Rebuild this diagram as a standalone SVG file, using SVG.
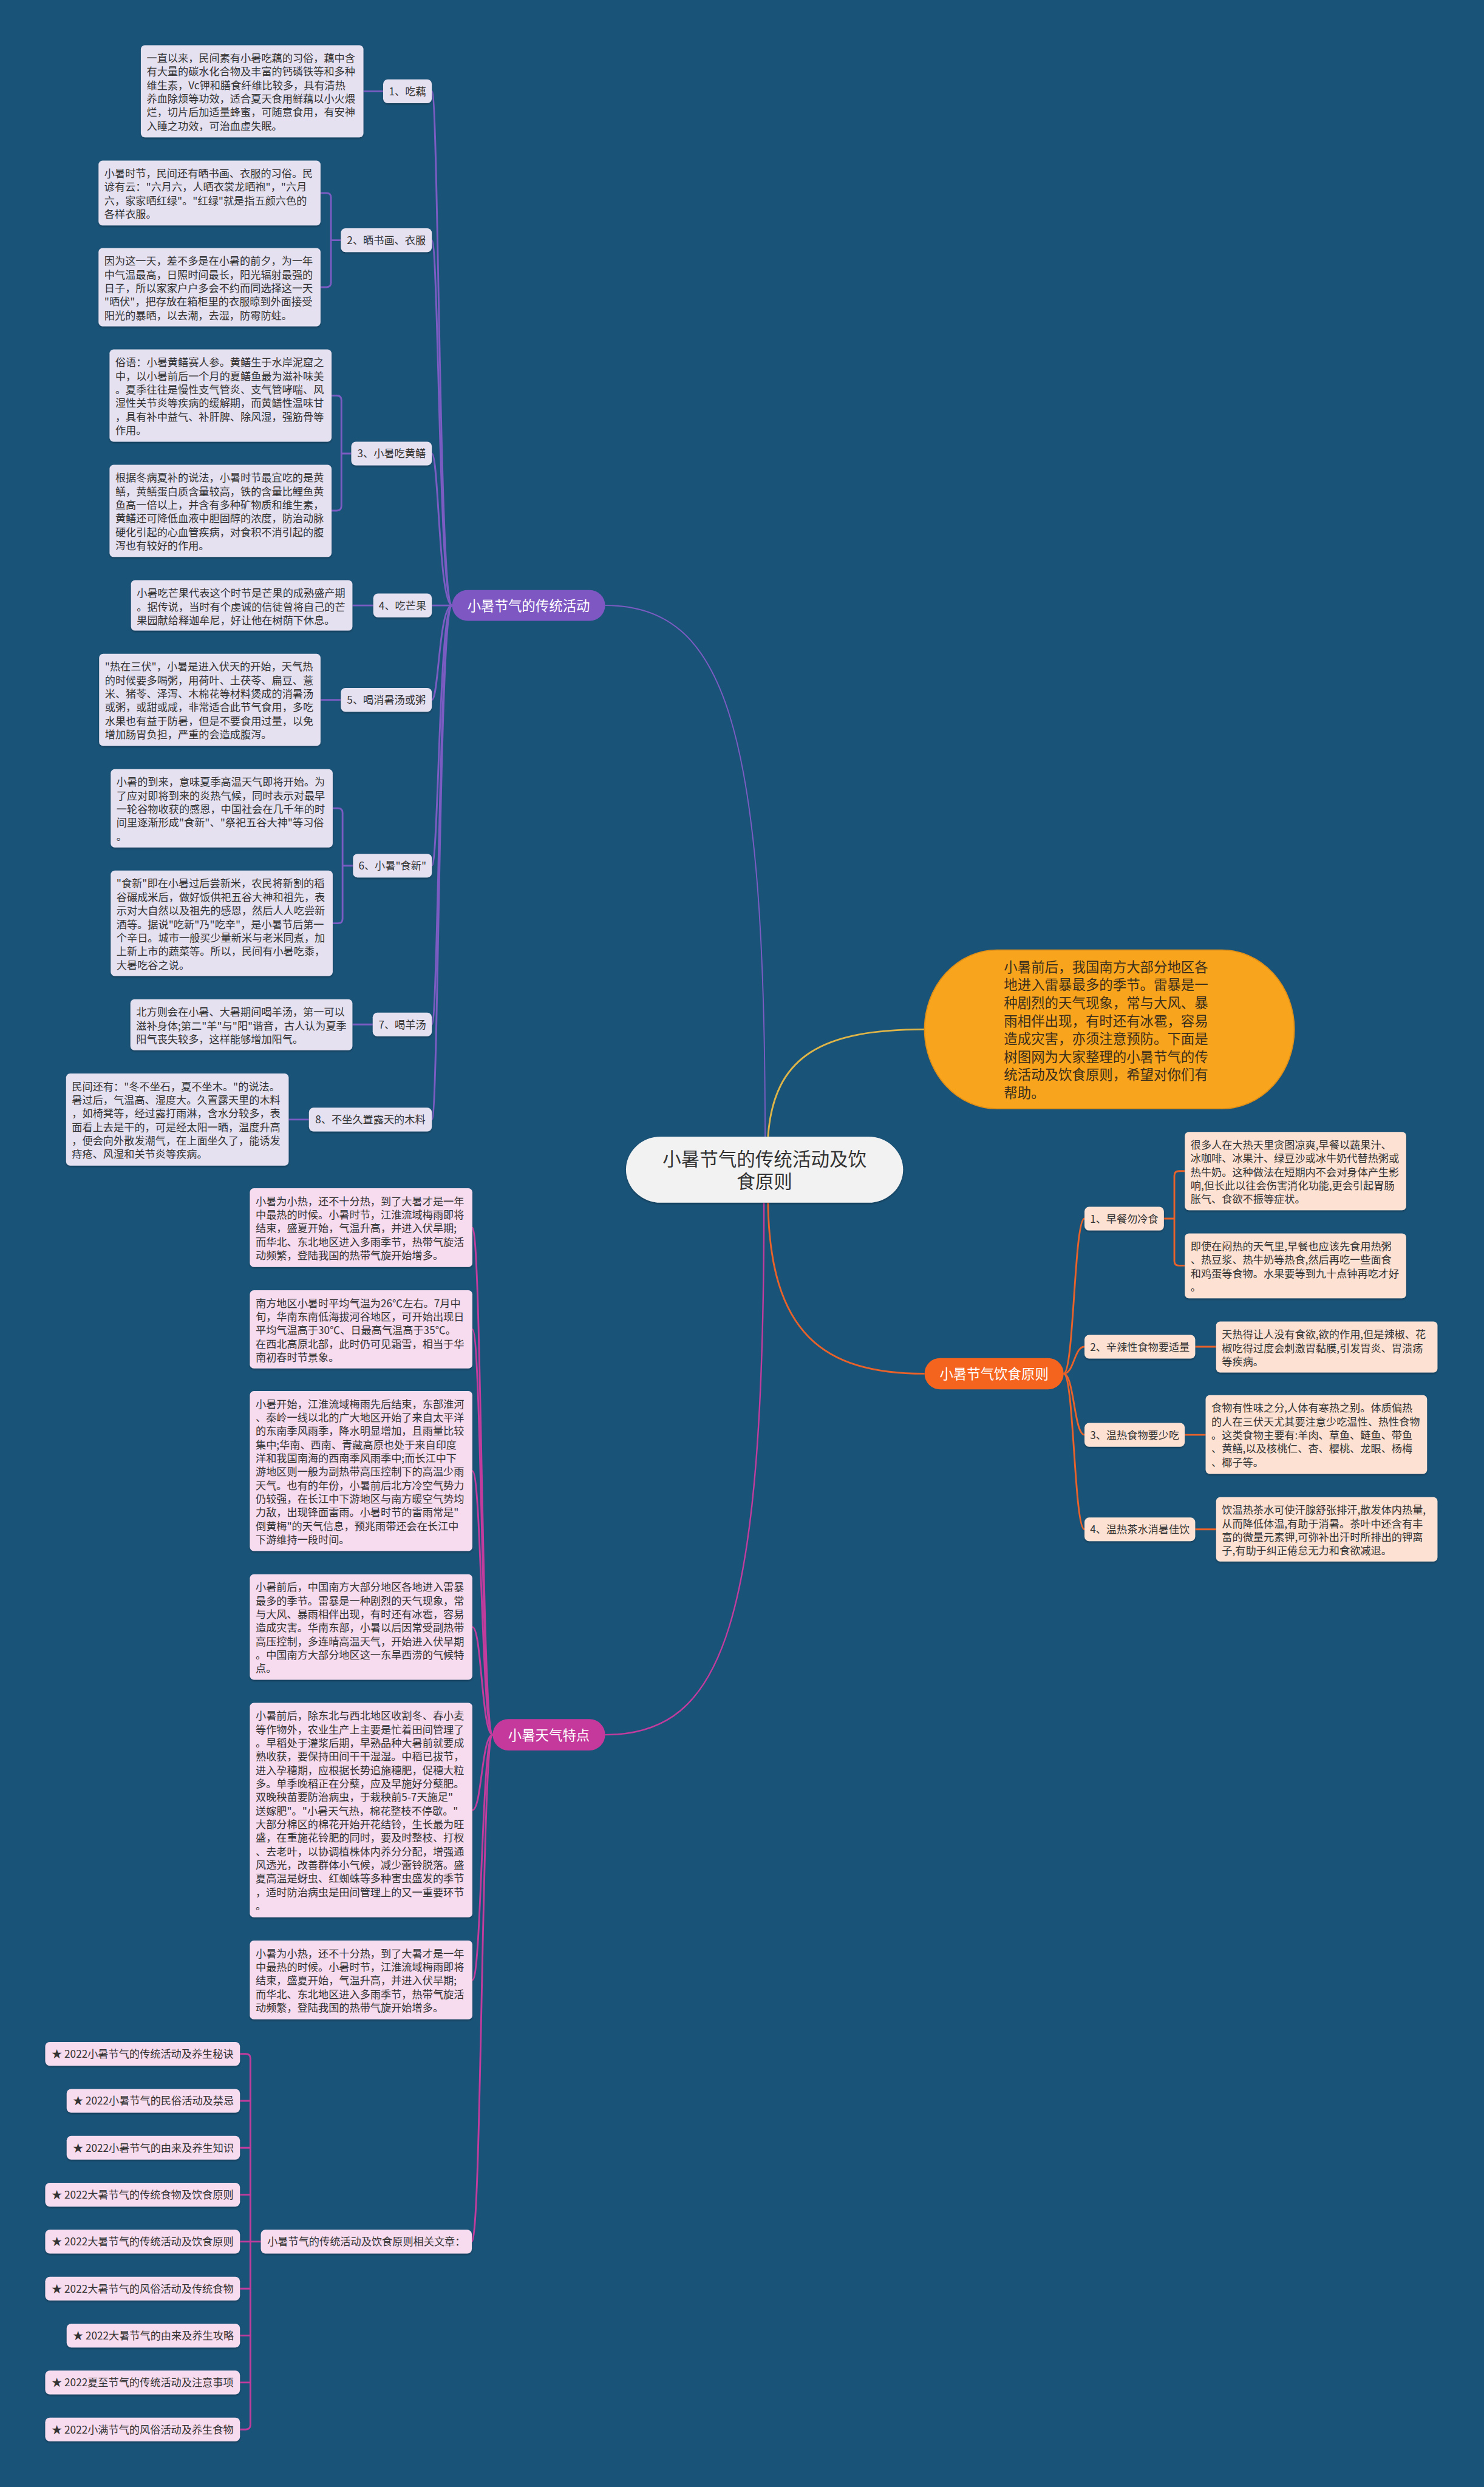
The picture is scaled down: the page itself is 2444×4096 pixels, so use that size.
<svg xmlns="http://www.w3.org/2000/svg" width="2444" height="4096" viewBox="0 0 2444 4096">
<defs>
<filter id="sh" x="-5%" y="-10%" width="110%" height="130%"><feDropShadow dx="0" dy="2" stdDeviation="1.5" flood-color="#000" flood-opacity="0.28"/></filter>
</defs>
<style>
.t{font-family:"Noto Sans CJK SC","Noto Sans",sans-serif;font-size:18px;fill:#333}
.m{text-anchor:middle}
.w{fill:#fff;font-size:23.5px}
.r{font-size:32px;fill:#333}
.i{font-size:23.5px;fill:#3a2e1c}
.ba{fill:#e6e1f1;filter:url(#sh)}
.bb{fill:#fde2d4;filter:url(#sh)}
.bc{fill:#f7dbee;filter:url(#sh)}
.ca{fill:none;stroke:#7b5cc2;stroke-width:3}
.cb{fill:none;stroke:#e8622a;stroke-width:3}
.cc{fill:none;stroke:#c23c9e;stroke-width:3}
</style>
<rect x="0" y="0" width="2444" height="4096" fill="#1a5378"/>
<g transform="scale(0.9546)">
<g id="connectors">
<path class="ca" style="stroke-width:2" d="M1320,1961 C1320,1250 1250,1044.5 1044,1044.5"/>
<path fill="none" stroke="#e0b548" stroke-width="3" d="M1325,1961 C1335,1820 1420,1776 1595,1776"/>
<path class="cb" d="M1325,2075 C1328,2300 1420,2370 1595,2370"/>
<path class="cc" style="stroke-width:2.5" d="M1318,2075 C1318,2800 1250,2993 1044,2993"/>
<path class="ca" d="M780,1044.5 C757,1044.5 757,157.5 745,157.5"/>
<path class="ca" d="M780,1044.5 C757,1044.5 757,414.5 745,414.5"/>
<path class="ca" d="M780,1044.5 C757,1044.5 757,782.5 745,782.5"/>
<path class="ca" d="M780,1044.5 H745"/>
<path class="ca" d="M780,1044.5 C757,1044.5 757,1207.5 745,1207.5"/>
<path class="ca" d="M780,1044.5 C757,1044.5 757,1493.5 745,1493.5"/>
<path class="ca" d="M780,1044.5 C757,1044.5 757,1767.5 745,1767.5"/>
<path class="ca" d="M780,1044.5 C757,1044.5 757,1931.5 745,1931.5"/>
<path class="ca" d="M627,157.5 H661"/>
<path class="ca" d="M553,333 H563 Q571,333 571,341 V487.5 Q571,495.5 563,495.5 H553 M571,414.5 H588"/>
<path class="ca" d="M572,682.5 H581 Q589,682.5 589,690.5 V873 Q589,881 581,881 H572 M589,782.5 H606"/>
<path class="ca" d="M608,1044.5 H644"/>
<path class="ca" d="M553,1207.5 H588"/>
<path class="ca" d="M574,1394.5 H583 Q591,1394.5 591,1402.5 V1585 Q591,1593 583,1593 H574 M591,1493.5 H609"/>
<path class="ca" d="M608,1767.5 H643"/>
<path class="ca" d="M498,1931.5 H533"/>
<path class="cb" d="M1835,2370 C1853,2370 1853,2102.5 1871,2102.5"/>
<path class="cb" d="M1835,2370 C1853,2370 1853,2323.5 1871,2323.5"/>
<path class="cb" d="M1835,2370 C1853,2370 1853,2475.5 1871,2475.5"/>
<path class="cb" d="M1835,2370 C1853,2370 1853,2638.5 1871,2638.5"/>
<path class="cb" d="M2008,2102.5 H2026 M2044,2020.5 H2034 Q2026,2020.5 2026,2028.5 V2175.5 Q2026,2183.5 2034,2183.5 H2044"/>
<path class="cb" d="M2062,2323.5 H2098"/>
<path class="cb" d="M2044,2475.5 H2080"/>
<path class="cb" d="M2062,2638.5 H2098"/>
<path class="cc" d="M850,2993 C831,2993 831,2118 815,2118"/>
<path class="cc" d="M850,2993 C831,2993 831,2293.5 815,2293.5"/>
<path class="cc" d="M850,2993 C831,2993 831,2538 815,2538"/>
<path class="cc" d="M850,2993 C831,2993 831,2807 815,2807"/>
<path class="cc" d="M850,2993 C831,2993 831,3123 815,3123"/>
<path class="cc" d="M850,2993 C831,2993 831,3416 815,3416"/>
<path class="cc" d="M850,2993 C831,2993 831,3867.5 814,3867.5"/>
<path class="cc" d="M414,3543.5 H424 Q432,3543.5 432,3551.5 V4183.5 Q432,4191.5 424,4191.5 H414 M432,3867.5 H450 M414,3624.5 H432 M414,3705.5 H432 M414,3786.5 H432 M414,3867.5 H432 M414,3948.5 H432 M414,4029.5 H432 M414,4110.5 H432"/>
</g>
<g id="root">
<rect x="1080" y="1961" width="478" height="114" rx="60" ry="57" fill="#f2f2f2" filter="url(#sh)"/>
<text class="t m r" x="1319" y="2011">小暑节气的传统活动及饮<tspan x="1319" dy="39">食原则</tspan></text>
</g>
<g id="intro">
<rect x="1595" y="1639" width="638" height="274" rx="125" ry="137" fill="#f8a41d" stroke="#e08f17" stroke-width="2"/>
<text class="t i" x="1732" y="1677">小暑前后，我国南方大部分地区各<tspan x="1732" dy="31">地进入雷暴最多的季节。雷暴是一</tspan><tspan x="1732" dy="31">种剧烈的天气现象，常与大风、暴</tspan><tspan x="1732" dy="31">雨相伴出现，有时还有冰雹，容易</tspan><tspan x="1732" dy="31">造成灾害，亦须注意预防。下面是</tspan><tspan x="1732" dy="31">树图网为大家整理的小暑节气的传</tspan><tspan x="1732" dy="31">统活动及饮食原则，希望对你们有</tspan><tspan x="1732" dy="31">帮助。</tspan></text>
</g>
<g id="branch-a">
<rect x="780" y="1018" width="264" height="53" rx="26.5" fill="#7e57c2"/>
<text class="t m w" x="912" y="1053.5">小暑节气的传统活动</text>
</g>
<g id="a1">
<rect class="ba" x="661" y="137" width="84" height="41" rx="8"/>
<text class="t m" x="703" y="164.3">1、吃藕</text>
<rect class="ba" x="243" y="78" width="384" height="159" rx="7"/>
<text class="t" x="253" y="107">一直以来，民间素有小暑吃藕的习俗，藕中含<tspan x="253" dy="23.4">有大量的碳水化合物及丰富的钙磷铁等和多种</tspan><tspan x="253" dy="23.4">维生素，Vc钾和膳食纤维比较多，具有清热</tspan><tspan x="253" dy="23.4">养血除烦等功效，适合夏天食用鲜藕以小火煨</tspan><tspan x="253" dy="23.4">烂，切片后加适量蜂蜜，可随意食用，有安神</tspan><tspan x="253" dy="23.4">入睡之功效，可治血虚失眠。</tspan></text>
</g>
<g id="a2">
<rect class="ba" x="588" y="394" width="157" height="41" rx="8"/>
<text class="t m" x="666.5" y="421.3">2、晒书画、衣服</text>
<rect class="ba" x="170" y="277" width="383" height="112" rx="7"/>
<text class="t" x="180" y="306">小暑时节，民间还有晒书画、衣服的习俗。民<tspan x="180" dy="23.4">谚有云："六月六，人晒衣裳龙晒袍"，"六月</tspan><tspan x="180" dy="23.4">六，家家晒红绿"。"红绿"就是指五颜六色的</tspan><tspan x="180" dy="23.4">各样衣服。</tspan></text>
<rect class="ba" x="170" y="428" width="383" height="135" rx="7"/>
<text class="t" x="180" y="457">因为这一天，差不多是在小暑的前夕，为一年<tspan x="180" dy="23.4">中气温最高，日照时间最长，阳光辐射最强的</tspan><tspan x="180" dy="23.4">日子，所以家家户户多会不约而同选择这一天</tspan><tspan x="180" dy="23.4">"晒伏"，把存放在箱柜里的衣服晾到外面接受</tspan><tspan x="180" dy="23.4">阳光的暴晒，以去潮，去湿，防霉防蛀。</tspan></text>
</g>
<g id="a3">
<rect class="ba" x="606" y="762" width="139" height="41" rx="8"/>
<text class="t m" x="675.5" y="789.3">3、小暑吃黄鳝</text>
<rect class="ba" x="189" y="603" width="383" height="159" rx="7"/>
<text class="t" x="199" y="632">俗语：小暑黄鳝赛人参。黄鳝生于水岸泥窟之<tspan x="199" dy="23.4">中，以小暑前后一个月的夏鳝鱼最为滋补味美</tspan><tspan x="199" dy="23.4">。夏季往往是慢性支气管炎、支气管哮喘、风</tspan><tspan x="199" dy="23.4">湿性关节炎等疾病的缓解期，而黄鳝性温味甘</tspan><tspan x="199" dy="23.4">，具有补中益气、补肝脾、除风湿，强筋骨等</tspan><tspan x="199" dy="23.4">作用。</tspan></text>
<rect class="ba" x="189" y="802" width="383" height="159" rx="7"/>
<text class="t" x="199" y="831">根据冬病夏补的说法，小暑时节最宜吃的是黄<tspan x="199" dy="23.4">鳝，黄鳝蛋白质含量较高，铁的含量比鲤鱼黄</tspan><tspan x="199" dy="23.4">鱼高一倍以上，并含有多种矿物质和维生素，</tspan><tspan x="199" dy="23.4">黄鳝还可降低血液中胆固醇的浓度，防治动脉</tspan><tspan x="199" dy="23.4">硬化引起的心血管疾病，对食积不消引起的腹</tspan><tspan x="199" dy="23.4">泻也有较好的作用。</tspan></text>
</g>
<g id="a4">
<rect class="ba" x="644" y="1024" width="101" height="41" rx="8"/>
<text class="t m" x="694.5" y="1051.3">4、吃芒果</text>
<rect class="ba" x="226" y="1001" width="382" height="87" rx="7"/>
<text class="t" x="236" y="1030">小暑吃芒果代表这个时节是芒果的成熟盛产期<tspan x="236" dy="23.4">。据传说，当时有个虔诚的信徒曾将自己的芒</tspan><tspan x="236" dy="23.4">果园献给释迦牟尼，好让他在树荫下休息。</tspan></text>
</g>
<g id="a5">
<rect class="ba" x="588" y="1187" width="157" height="41" rx="8"/>
<text class="t m" x="666.5" y="1214.3">5、喝消暑汤或粥</text>
<rect class="ba" x="171" y="1128" width="382" height="159" rx="7"/>
<text class="t" x="181" y="1157">"热在三伏"，小暑是进入伏天的开始，天气热<tspan x="181" dy="23.4">的时候要多喝粥，用荷叶、土茯苓、扁豆、薏</tspan><tspan x="181" dy="23.4">米、猪苓、泽泻、木棉花等材料煲成的消暑汤</tspan><tspan x="181" dy="23.4">或粥，或甜或咸，非常适合此节气食用，多吃</tspan><tspan x="181" dy="23.4">水果也有益于防暑，但是不要食用过量，以免</tspan><tspan x="181" dy="23.4">增加肠胃负担，严重的会造成腹泻。</tspan></text>
</g>
<g id="a6">
<rect class="ba" x="609" y="1473" width="136" height="41" rx="8"/>
<text class="t m" x="677" y="1500.3">6、小暑"食新"</text>
<rect class="ba" x="191" y="1327" width="383" height="135" rx="7"/>
<text class="t" x="201" y="1356">小暑的到来，意味夏季高温天气即将开始。为<tspan x="201" dy="23.4">了应对即将到来的炎热气候，同时表示对最早</tspan><tspan x="201" dy="23.4">一轮谷物收获的感恩，中国社会在几千年的时</tspan><tspan x="201" dy="23.4">间里逐渐形成"食新"、"祭祀五谷大神"等习俗</tspan><tspan x="201" dy="23.4">。</tspan></text>
<rect class="ba" x="191" y="1502" width="383" height="182" rx="7"/>
<text class="t" x="201" y="1531">"食新"即在小暑过后尝新米，农民将新割的稻<tspan x="201" dy="23.4">谷碾成米后，做好饭供祀五谷大神和祖先，表</tspan><tspan x="201" dy="23.4">示对大自然以及祖先的感恩，然后人人吃尝新</tspan><tspan x="201" dy="23.4">酒等。据说"吃新"乃"吃辛"，是小暑节后第一</tspan><tspan x="201" dy="23.4">个辛日。城市一般买少量新米与老米同煮，加</tspan><tspan x="201" dy="23.4">上新上市的蔬菜等。所以，民间有小暑吃黍，</tspan><tspan x="201" dy="23.4">大暑吃谷之说。</tspan></text>
</g>
<g id="a7">
<rect class="ba" x="643" y="1747" width="102" height="41" rx="8"/>
<text class="t m" x="694" y="1774.3">7、喝羊汤</text>
<rect class="ba" x="225" y="1724" width="383" height="88" rx="7"/>
<text class="t" x="235" y="1753">北方则会在小暑、大暑期间喝羊汤，第一可以<tspan x="235" dy="23.4">滋补身体;第二"羊"与"阳"谐音，古人认为夏季</tspan><tspan x="235" dy="23.4">阳气丧失较多，这样能够增加阳气。</tspan></text>
</g>
<g id="a8">
<rect class="ba" x="533" y="1911" width="212" height="41" rx="8"/>
<text class="t m" x="639" y="1938.3">8、不坐久置露天的木料</text>
<rect class="ba" x="114" y="1852" width="384" height="159" rx="7"/>
<text class="t" x="124" y="1881">民间还有："冬不坐石，夏不坐木。"的说法。<tspan x="124" dy="23.4">暑过后，气温高、湿度大。久置露天里的木料</tspan><tspan x="124" dy="23.4">，如椅凳等，经过露打雨淋，含水分较多，表</tspan><tspan x="124" dy="23.4">面看上去是干的，可是经太阳一晒，温度升高</tspan><tspan x="124" dy="23.4">，便会向外散发潮气，在上面坐久了，能诱发</tspan><tspan x="124" dy="23.4">痔疮、风湿和关节炎等疾病。</tspan></text>
</g>
<g id="branch-b">
<rect x="1595" y="2343" width="240" height="54" rx="27" fill="#f4641f"/>
<text class="t m w" x="1715" y="2379">小暑节气饮食原则</text>
</g>
<g id="b1">
<rect class="bb" x="1871" y="2082" width="137" height="41" rx="8"/>
<text class="t m" x="1939.5" y="2109.3">1、早餐勿冷食</text>
<rect class="bb" x="2044" y="1953" width="382" height="135" rx="7"/>
<text class="t" x="2054" y="1982">很多人在大热天里贪图凉爽,早餐以蔬果汁、<tspan x="2054" dy="23.4">冰咖啡、冰果汁、绿豆沙或冰牛奶代替热粥或</tspan><tspan x="2054" dy="23.4">热牛奶。这种做法在短期内不会对身体产生影</tspan><tspan x="2054" dy="23.4">响,但长此以往会伤害消化功能,更会引起胃肠</tspan><tspan x="2054" dy="23.4">胀气、食欲不振等症状。</tspan></text>
<rect class="bb" x="2044" y="2128" width="382" height="112" rx="7"/>
<text class="t" x="2054" y="2157">即使在闷热的天气里,早餐也应该先食用热粥<tspan x="2054" dy="23.4">、热豆浆、热牛奶等热食,然后再吃一些面食</tspan><tspan x="2054" dy="23.4">和鸡蛋等食物。水果要等到九十点钟再吃才好</tspan><tspan x="2054" dy="23.4">。</tspan></text>
</g>
<g id="b2">
<rect class="bb" x="1871" y="2303" width="191" height="41" rx="8"/>
<text class="t m" x="1966.5" y="2330.3">2、辛辣性食物要适量</text>
<rect class="bb" x="2098" y="2280" width="382" height="88" rx="7"/>
<text class="t" x="2108" y="2309">天热得让人没有食欲,欲的作用,但是辣椒、花<tspan x="2108" dy="23.4">椒吃得过度会刺激胃黏膜,引发胃炎、胃溃疡</tspan><tspan x="2108" dy="23.4">等疾病。</tspan></text>
</g>
<g id="b3">
<rect class="bb" x="1871" y="2455" width="173" height="41" rx="8"/>
<text class="t m" x="1957.5" y="2482.3">3、温热食物要少吃</text>
<rect class="bb" x="2080" y="2407" width="382" height="136" rx="7"/>
<text class="t" x="2090" y="2436">食物有性味之分,人体有寒热之别。体质偏热<tspan x="2090" dy="23.4">的人在三伏天尤其要注意少吃温性、热性食物</tspan><tspan x="2090" dy="23.4">。这类食物主要有:羊肉、草鱼、鲢鱼、带鱼</tspan><tspan x="2090" dy="23.4">、黄鳝,以及核桃仁、杏、樱桃、龙眼、杨梅</tspan><tspan x="2090" dy="23.4">、椰子等。</tspan></text>
</g>
<g id="b4">
<rect class="bb" x="1871" y="2618" width="191" height="41" rx="8"/>
<text class="t m" x="1966.5" y="2645.3">4、温热茶水消暑佳饮</text>
<rect class="bb" x="2098" y="2583" width="382" height="111" rx="7"/>
<text class="t" x="2108" y="2612">饮温热茶水可使汗腺舒张排汗,散发体内热量,<tspan x="2108" dy="23.4">从而降低体温,有助于消暑。茶叶中还含有丰</tspan><tspan x="2108" dy="23.4">富的微量元素钾,可弥补出汗时所排出的钾离</tspan><tspan x="2108" dy="23.4">子,有助于纠正倦怠无力和食欲减退。</tspan></text>
</g>
<g id="branch-c">
<rect x="850" y="2966" width="194" height="54" rx="27" fill="#c4399b"/>
<text class="t m w" x="947" y="3002">小暑天气特点</text>
</g>
<g id="c1">
<rect class="bc" x="431" y="2050" width="384" height="136" rx="7"/>
<text class="t" x="441" y="2079">小暑为小热，还不十分热，到了大暑才是一年<tspan x="441" dy="23.4">中最热的时候。小暑时节，江淮流域梅雨即将</tspan><tspan x="441" dy="23.4">结束，盛夏开始，气温升高，并进入伏旱期;</tspan><tspan x="441" dy="23.4">而华北、东北地区进入多雨季节，热带气旋活</tspan><tspan x="441" dy="23.4">动频繁，登陆我国的热带气旋开始增多。</tspan></text>
</g>
<g id="c2">
<rect class="bc" x="431" y="2226" width="384" height="135" rx="7"/>
<text class="t" x="441" y="2255">南方地区小暑时平均气温为26℃左右。7月中<tspan x="441" dy="23.4">旬，华南东南低海拔河谷地区，可开始出现日</tspan><tspan x="441" dy="23.4">平均气温高于30℃、日最高气温高于35℃。</tspan><tspan x="441" dy="23.4">在西北高原北部，此时仍可见霜雪，相当于华</tspan><tspan x="441" dy="23.4">南初春时节景象。</tspan></text>
</g>
<g id="c3">
<rect class="bc" x="431" y="2400" width="384" height="276" rx="7"/>
<text class="t" x="441" y="2429">小暑开始，江淮流域梅雨先后结束，东部淮河<tspan x="441" dy="23.4">、秦岭一线以北的广大地区开始了来自太平洋</tspan><tspan x="441" dy="23.4">的东南季风雨季，降水明显增加，且雨量比较</tspan><tspan x="441" dy="23.4">集中;华南、西南、青藏高原也处于来自印度</tspan><tspan x="441" dy="23.4">洋和我国南海的西南季风雨季中;而长江中下</tspan><tspan x="441" dy="23.4">游地区则一般为副热带高压控制下的高温少雨</tspan><tspan x="441" dy="23.4">天气。也有的年份，小暑前后北方冷空气势力</tspan><tspan x="441" dy="23.4">仍较强，在长江中下游地区与南方暖空气势均</tspan><tspan x="441" dy="23.4">力敌，出现锋面雷雨。小暑时节的雷雨常是"</tspan><tspan x="441" dy="23.4">倒黄梅"的天气信息，预兆雨带还会在长江中</tspan><tspan x="441" dy="23.4">下游维持一段时间。</tspan></text>
</g>
<g id="c4">
<rect class="bc" x="431" y="2716" width="384" height="182" rx="7"/>
<text class="t" x="441" y="2745">小暑前后，中国南方大部分地区各地进入雷暴<tspan x="441" dy="23.4">最多的季节。雷暴是一种剧烈的天气现象，常</tspan><tspan x="441" dy="23.4">与大风、暴雨相伴出现，有时还有冰雹，容易</tspan><tspan x="441" dy="23.4">造成灾害。华南东部，小暑以后因常受副热带</tspan><tspan x="441" dy="23.4">高压控制，多连晴高温天气，开始进入伏旱期</tspan><tspan x="441" dy="23.4">。中国南方大部分地区这一东旱西涝的气候特</tspan><tspan x="441" dy="23.4">点。</tspan></text>
</g>
<g id="c5">
<rect class="bc" x="431" y="2938" width="384" height="370" rx="7"/>
<text class="t" x="441" y="2967">小暑前后，除东北与西北地区收割冬、春小麦<tspan x="441" dy="23.4">等作物外，农业生产上主要是忙着田间管理了</tspan><tspan x="441" dy="23.4">。早稻处于灌浆后期，早熟品种大暑前就要成</tspan><tspan x="441" dy="23.4">熟收获，要保持田间干干湿湿。中稻已拔节，</tspan><tspan x="441" dy="23.4">进入孕穗期，应根据长势追施穗肥，促穗大粒</tspan><tspan x="441" dy="23.4">多。单季晚稻正在分蘖，应及早施好分蘖肥。</tspan><tspan x="441" dy="23.4">双晚秧苗要防治病虫，于栽秧前5-7天施足"</tspan><tspan x="441" dy="23.4">送嫁肥"。"小暑天气热，棉花整枝不停歇。"</tspan><tspan x="441" dy="23.4">大部分棉区的棉花开始开花结铃，生长最为旺</tspan><tspan x="441" dy="23.4">盛，在重施花铃肥的同时，要及时整枝、打杈</tspan><tspan x="441" dy="23.4">、去老叶，以协调植株体内养分分配，增强通</tspan><tspan x="441" dy="23.4">风透光，改善群体小气候，减少蕾铃脱落。盛</tspan><tspan x="441" dy="23.4">夏高温是蚜虫、红蜘蛛等多种害虫盛发的季节</tspan><tspan x="441" dy="23.4">，适时防治病虫是田间管理上的又一重要环节</tspan><tspan x="441" dy="23.4">。</tspan></text>
</g>
<g id="c6">
<rect class="bc" x="431" y="3348" width="384" height="136" rx="7"/>
<text class="t" x="441" y="3377">小暑为小热，还不十分热，到了大暑才是一年<tspan x="441" dy="23.4">中最热的时候。小暑时节，江淮流域梅雨即将</tspan><tspan x="441" dy="23.4">结束，盛夏开始，气温升高，并进入伏旱期;</tspan><tspan x="441" dy="23.4">而华北、东北地区进入多雨季节，热带气旋活</tspan><tspan x="441" dy="23.4">动频繁，登陆我国的热带气旋开始增多。</tspan></text>
</g>
<g id="related">
<rect class="bc" x="450" y="3847" width="364" height="41" rx="8"/>
<text class="t m" x="632" y="3874.3">小暑节气的传统活动及饮食原则相关文章：</text>
</g>
<g id="links">
<rect class="bc" x="78" y="3523" width="336" height="41" rx="8"/>
<text class="t m" x="246" y="3550.3">★ 2022小暑节气的传统活动及养生秘诀</text>
<rect class="bc" x="115" y="3604" width="299" height="41" rx="8"/>
<text class="t m" x="264.5" y="3631.3">★ 2022小暑节气的民俗活动及禁忌</text>
<rect class="bc" x="115" y="3685" width="299" height="41" rx="8"/>
<text class="t m" x="264.5" y="3712.3">★ 2022小暑节气的由来及养生知识</text>
<rect class="bc" x="78" y="3766" width="336" height="41" rx="8"/>
<text class="t m" x="246" y="3793.3">★ 2022大暑节气的传统食物及饮食原则</text>
<rect class="bc" x="78" y="3847" width="336" height="41" rx="8"/>
<text class="t m" x="246" y="3874.3">★ 2022大暑节气的传统活动及饮食原则</text>
<rect class="bc" x="78" y="3928" width="336" height="41" rx="8"/>
<text class="t m" x="246" y="3955.3">★ 2022大暑节气的风俗活动及传统食物</text>
<rect class="bc" x="115" y="4009" width="299" height="41" rx="8"/>
<text class="t m" x="264.5" y="4036.3">★ 2022大暑节气的由来及养生攻略</text>
<rect class="bc" x="78" y="4090" width="336" height="41" rx="8"/>
<text class="t m" x="246" y="4117.3">★ 2022夏至节气的传统活动及注意事项</text>
<rect class="bc" x="78" y="4171" width="336" height="41" rx="8"/>
<text class="t m" x="246" y="4198.3">★ 2022小满节气的风俗活动及养生食物</text>
</g>
</g>
</svg>
